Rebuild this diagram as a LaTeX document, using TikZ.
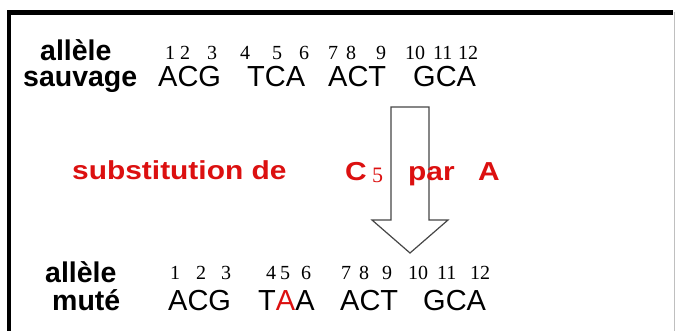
\documentclass[tikz,border=0pt]{standalone}
\usepackage{fontspec}
\setmainfont{Liberation Sans}
\newfontfamily\numfont{Liberation Serif}
\definecolor{myred}{RGB}{220,16,16}
\definecolor{arrowgray}{RGB}{70,70,70}
\tikzset{
  lbl/.style={anchor=base west, inner sep=0pt, font=\fontsize{28.5}{30}\selectfont\bfseries},
  seq/.style={anchor=base west, inner sep=0pt, font=\fontsize{29}{30}\selectfont},
  num/.style={anchor=base west, inner sep=0pt, font=\fontsize{20}{20}\selectfont\numfont},
  redtxt/.style={anchor=base west, inner sep=0pt, text=myred, font=\fontsize{26}{27}\selectfont\bfseries},
}
\newcommand{\wide}[1]{\scalebox{1.15}[1]{#1}}
\begin{document}
\begin{tikzpicture}[x=1pt,y=-1pt]
\useasboundingbox (0,0) rectangle (677,331);
\fill[white] (0,0) rectangle (677,331);
% frame
\draw[line width=4.5pt] (9,331) -- (9,12.5) -- (673,12.5);
\draw[gray!50, line width=0.8pt] (674.5,12.5) -- (674.5,331);
% arrow
\draw[arrowgray, line width=1.2pt, fill=white, line join=miter]
  (391,107) -- (429,107) -- (429,220) -- (448,220) -- (410,253) -- (372,220) -- (391,220) -- cycle;
% top row
\node[lbl] (a1) at (40,61) {allèle};
\node[lbl] (s1) at (23,87) {sauvage};
\node[num] (t1) at (165,60) {1};
\node[num] (t2) at (180,60) {2};
\node[num] (t3) at (207,60) {3};
\node[num] (t4) at (240,60) {4};
\node[num] (t5) at (272,60) {5};
\node[num] (t6) at (299,60) {6};
\node[num] (t7) at (328,60) {7};
\node[num] (t8) at (346,60) {8};
\node[num] (t9) at (376,60) {9};
\node[num] (t10) at (405,60) {10};
\node[num] (t11) at (433,60) {11};
\node[num] (t12) at (458,60) {12};
\node[seq] (q1) at (158,87) {ACG};
\node[seq] (q2) at (247,87) {TCA};
\node[seq] (q3) at (328,87) {ACT};
\node[seq] (q4) at (413,87) {GCA};
% middle
\node[redtxt] (sub) at (72,180) {\wide{substitution de}};
\node[redtxt] (c) at (345,181) {\wide{C}};
\node[anchor=base west, inner sep=0pt, text=myred, font=\fontsize{22}{22}\selectfont\numfont] (five) at (372,183) {5};
\node[redtxt] (par) at (408,181) {\wide{par}};
\node[redtxt] (aa) at (478,181) {\wide{A}};
% bottom row
\node[lbl] (a2) at (45,282) {allèle};
\node[lbl] (m2) at (52,310) {muté};
\node[num] (b1) at (170,279) {1};
\node[num] (b2) at (196,279) {2};
\node[num] (b3) at (221,279) {3};
\node[num] (b4) at (266,279) {4};
\node[num] (b5) at (280,279) {5};
\node[num] (b6) at (301,279) {6};
\node[num] (b7) at (341,279) {7};
\node[num] (b8) at (359,279) {8};
\node[num] (b9) at (382,279) {9};
\node[num] (b10) at (408,279) {10};
\node[num] (b11) at (437,279) {11};
\node[num] (b12) at (470,279) {12};
\node[seq] (r1) at (168,310) {ACG};
\node[seq] (r2) at (258,310) {T\textcolor{myred}{A}A};
\node[seq] (r3) at (340,310) {ACT};
\node[seq] (r4) at (423,310) {GCA};
\end{tikzpicture}
\end{document}
